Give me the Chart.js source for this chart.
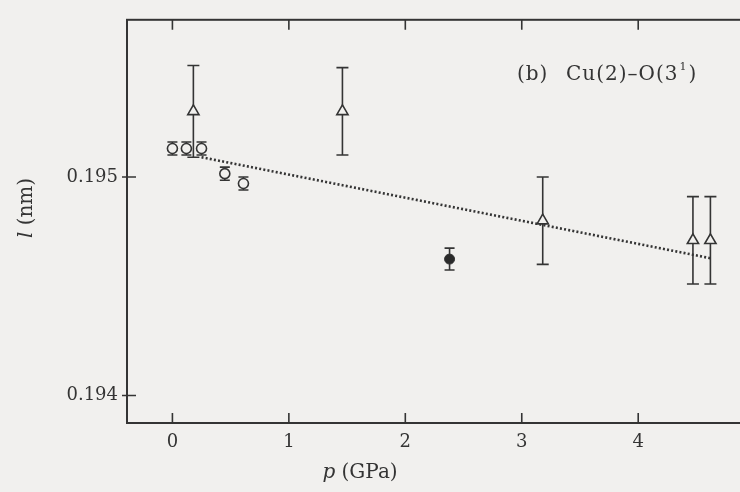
<!DOCTYPE html>
<html>
<head>
<meta charset="utf-8">
<script src="https://cdn.jsdelivr.net/npm/chart.js@4/dist/chart.umd.min.js"></script>
<style>
  html, body { margin: 0; padding: 0; background: #f1f0ee; }
  #wrap { width: 740px; height: 492px; overflow: hidden; }
</style>
</head>
<body>
<div id="wrap"><canvas id="bond-chart" width="760" height="492"></canvas></div>
<script>
// Cu(2)-O(3) bond length vs pressure
const circP = [0, 0.12, 0.25, 0.45, 0.61];
const circL = [0.19513, 0.19513, 0.19513, 0.195015, 0.19497];
const circErr = [0.00003, 0.00003, 0.00003, 0.00003, 0.00003];

const triP = [0.18, 1.46, 3.18, 4.47, 4.62];
const triL = [0.19530, 0.19530, 0.19480, 0.19471, 0.19471];
const triErr = [0.00021, 0.00020, 0.00020, 0.00020, 0.00020];

const dotP = [2.38];
const dotL = [0.194624];
const dotErr = [0.00005];

// linear fit
const fitP = [0.25, 4.63];
const fitL = [0.19509, 0.194627];

const xTicks = [0, 1, 2, 3, 4];
const yTicks = [0.194, 0.195];

const ink = '#343434';
const bg = '#f1f0ee';
const serif = '"DejaVu Serif", "Liberation Serif", serif';

const pts = (xs, ys) => xs.map((x, i) => ({ x: x, y: ys[i] }));

// vertical error bars with caps, drawn under the markers
const errorBars = {
  id: 'errorBars',
  beforeDatasetsDraw(chart) {
    const ctx = chart.ctx, xs = chart.scales.x, ys = chart.scales.y;
    chart.data.datasets.forEach(ds => {
      if (!ds.err) return;
      ds.data.forEach((p, i) => {
        const px = xs.getPixelForValue(p.x);
        const top = ys.getPixelForValue(p.y + ds.err[i]);
        const bot = ys.getPixelForValue(p.y - ds.err[i]);
        ctx.save();
        ctx.strokeStyle = ink;
        ctx.lineWidth = 1.6;
        ctx.beginPath();
        ctx.moveTo(px, top); ctx.lineTo(px, bot);
        ctx.moveTo(px - ds.cap, top); ctx.lineTo(px + ds.cap, top);
        ctx.moveTo(px - ds.cap, bot); ctx.lineTo(px + ds.cap, bot);
        ctx.stroke();
        ctx.restore();
      });
    });
  }
};

// writes a run of [text, italic] pieces starting at x
function drawRuns(ctx, runs, x, y, size) {
  runs.forEach(([t, it]) => {
    ctx.font = (it ? 'italic ' : '') + size + 'px ' + serif;
    ctx.fillText(t, x, y);
    x += ctx.measureText(t).width;
  });
}
function runsWidth(ctx, runs, size) {
  return runs.reduce((w, [t, it]) => {
    ctx.font = (it ? 'italic ' : '') + size + 'px ' + serif;
    return w + ctx.measureText(t).width;
  }, 0);
}

// frame, inward ticks and text
const frame = {
  id: 'frame',
  afterDraw(chart) {
    const ctx = chart.ctx, a = chart.chartArea;
    const xs = chart.scales.x, ys = chart.scales.y;
    ctx.save();
    ctx.strokeStyle = ink;
    ctx.lineWidth = 2;
    ctx.strokeRect(a.left, a.top, a.right - a.left, a.bottom - a.top);
    ctx.lineWidth = 1.6;
    ctx.beginPath();
    xTicks.forEach(v => {
      const px = xs.getPixelForValue(v);
      ctx.moveTo(px, a.bottom); ctx.lineTo(px, a.bottom - 10);
      ctx.moveTo(px, a.top); ctx.lineTo(px, a.top + 10);
    });
    yTicks.forEach(v => {
      const py = ys.getPixelForValue(v);
      ctx.moveTo(a.left - 5, py); ctx.lineTo(a.left + 9, py);
    });
    ctx.stroke();

    ctx.fillStyle = ink;
    ctx.textBaseline = 'middle';
    ctx.textAlign = 'left';

    const xTitle = [['p', true], [' (GPa)', false]];
    drawRuns(ctx, xTitle, 360 - runsWidth(ctx, xTitle, 20) / 2, 473, 20);

    const yTitle = [['l', true], [' (nm)', false]];
    ctx.save();
    ctx.translate(27, 208);
    ctx.rotate(-Math.PI / 2);
    drawRuns(ctx, yTitle, -runsWidth(ctx, yTitle, 20) / 2, 0, 20);
    ctx.restore();

    // panel label
    ctx.letterSpacing = '1px';
    ctx.font = '20px ' + serif;
    ctx.fillText('(b)', 517, 75);
    const base = 'Cu(2)\u2013O(3';
    ctx.fillText(base, 566, 75);
    let tx = 566 + ctx.measureText(base).width;
    ctx.font = '11px ' + serif;
    ctx.fillText('1', tx + 1, 67);
    tx += ctx.measureText('1').width + 2;
    ctx.font = '20px ' + serif;
    ctx.fillText(')', tx, 75);
    ctx.restore();
  }
};

new Chart(document.getElementById('bond-chart'), {
  type: 'scatter',
  data: {
    datasets: [
      {
        type: 'line',
        data: pts(fitP, fitL),
        borderColor: ink,
        borderWidth: 2.6,
        borderDash: [2, 2.2],
        pointRadius: 0,
        fill: false
      },
      {
        data: pts(circP, circL),
        err: circErr, cap: 5,
        pointStyle: 'circle',
        pointRadius: 5,
        borderColor: ink,
        borderWidth: 1.6,
        backgroundColor: bg
      },
      {
        data: pts(triP, triL),
        err: triErr, cap: 6,
        pointStyle: 'triangle',
        pointRadius: 6.5,
        borderColor: ink,
        borderWidth: 1.6,
        backgroundColor: bg
      },
      {
        data: pts(dotP, dotL),
        err: dotErr, cap: 5,
        pointStyle: 'circle',
        pointRadius: 5,
        borderColor: ink,
        borderWidth: 1,
        backgroundColor: '#2a2a2a'
      }
    ]
  },
  options: {
    responsive: false,
    animation: false,
    layout: { padding: { top: 14, right: 10, left: 0, bottom: 0 } },
    plugins: { legend: { display: false }, tooltip: { enabled: false } },
    scales: {
      x: {
        type: 'linear',
        min: -0.39,
        max: 4.96,
        grid: { display: false, drawTicks: false },
        border: { display: false },
        afterBuildTicks: s => { s.ticks = xTicks.map(v => ({ value: v })); },
        afterFit: s => { s.height = 69; },
        ticks: {
          padding: 9,
          color: ink,
          font: { family: serif, size: 18 },
          callback: v => String(v)
        }
      },
      y: {
        type: 'linear',
        min: 0.193874,
        max: 0.195719,
        grid: { display: false, drawTicks: false },
        border: { display: false },
        afterBuildTicks: s => { s.ticks = yTicks.map(v => ({ value: v })); },
        afterFit: s => { s.width = 127; },
        ticks: {
          padding: 9,
          color: ink,
          font: { family: serif, size: 18 },
          callback: v => v.toFixed(3)
        }
      }
    }
  },
  plugins: [errorBars, frame]
});
</script>
</body>
</html>
